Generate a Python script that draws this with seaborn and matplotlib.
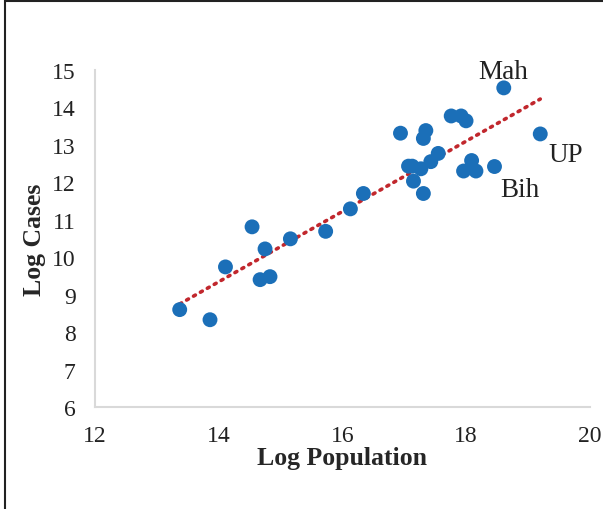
import numpy as np
import pandas as pd
import matplotlib
matplotlib.use('Agg')
import matplotlib.pyplot as plt
import seaborn as sns
from matplotlib.patches import Rectangle

# log population / log cases per state
log_pop = [13.37, 13.86, 14.11, 14.54, 14.75, 14.67, 14.83, 15.16, 15.73, 16.13,
           16.34, 16.94, 17.07, 17.13, 17.15, 17.27, 17.31, 17.35, 17.31, 17.43,
           17.55, 17.76, 17.92, 18.00, 18.09, 17.96, 18.16, 18.46, 18.61, 19.20]
log_cases = [8.60, 8.33, 9.74, 10.81, 10.22, 9.40, 9.48, 10.49, 10.69, 11.29,
             11.70, 13.31, 12.43, 12.43, 12.03, 12.36, 13.17, 13.38, 11.70, 12.55,
             12.77, 13.77, 13.77, 13.64, 12.58, 12.30, 12.30, 12.42, 14.52, 13.29]

labels = ['Mah', 'UP', 'Bih']
label_x = [18.20, 19.33, 18.56]
label_y = [14.95, 12.74, 11.80]

df = pd.DataFrame({'Log Population': log_pop, 'Log Cases': log_cases})

sns.set_style('white')
plt.rcParams['font.family'] = ['Liberation Serif', 'DejaVu Serif']

fig = plt.figure(figsize=(6.03, 5.10), dpi=100)
ax = fig.add_axes([0.1575, 0.2, 0.8205, 0.661])

sns.regplot(x='Log Population', y='Log Cases', data=df, ax=ax, scatter=False,
            ci=None, color='#C1272D', line_kws=dict(linestyle=(0, (0.6, 1.6)),
                                                   linewidth=2.6, dash_capstyle='round'))
sns.scatterplot(x='Log Population', y='Log Cases', data=df, ax=ax, s=115,
                color='#1B6FB8', edgecolor='none', zorder=3)

for t, x, y in zip(labels, label_x, label_y):
    ax.text(x, y, t, fontsize=19.5, color='#222222', va='center', ha='left')

ax.set_xlim(12, 20)
ax.set_ylim(6, 15)
ax.set_xticks(range(12, 21, 2))
ax.set_yticks(range(6, 16))
ax.tick_params(length=0, labelsize=17, colors='#222222')
ax.tick_params(axis='x', pad=13)
ax.tick_params(axis='y', pad=14)
for s in ['top', 'right']:
    ax.spines[s].set_visible(False)
for s in ['left', 'bottom']:
    ax.spines[s].set_color('#d9d9d9')
    ax.spines[s].set_linewidth(1.5)
ax.set_xlabel('Log Population', fontsize=18.5, fontweight='bold', labelpad=0)
ax.set_ylabel('Log Cases', fontsize=18.5, fontweight='bold', labelpad=4)

# outer frame around the chart
fig.patches.append(Rectangle((5 / 603, -0.1), 1.2, 1.1 - 2 / 510, transform=fig.transFigure,
                             fill=False, edgecolor='#222222', linewidth=1.5))

fig.savefig('out.png', dpi=100)
